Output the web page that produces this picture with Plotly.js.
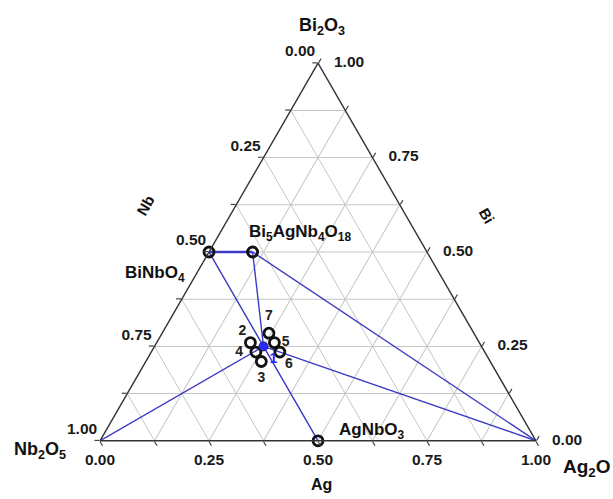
<!DOCTYPE html>
<html><head><meta charset="utf-8">
<script src="https://cdn.plot.ly/plotly-3.0.1.min.js"></script>
<style>html,body{margin:0;padding:0;background:#fff}</style>
</head><body><div id="chart" style="width:613px;height:499px"></div>
<script>
// ---- data (cation fractions: a = Bi, b = Nb, c = Ag) ----
const phaseNames = ["BiNbO4", "Bi5AgNb4O18", "AgNbO3", "Nb2O5", "Ag2O"];
const phaseBi = [0.50, 0.50, 0.00, 0.00, 0.00];
const phaseNb = [0.50, 0.40, 0.50, 1.00, 0.00];
const phaseAg = [0.00, 0.10, 0.50, 0.00, 1.00];
const phaseShown = [true, true, true, false, false];

const sampleLabels = ["1", "2", "3", "4", "5", "6", "7"];
const sampleBi = [0.250, 0.260, 0.210, 0.235, 0.260, 0.235, 0.285];
const sampleNb = [0.500, 0.525, 0.525, 0.525, 0.470, 0.470, 0.470];
const sampleAg = [0.250, 0.215, 0.265, 0.240, 0.270, 0.295, 0.245];
const samplePos = ["bottom right", "top left", "bottom center", "middle left", "middle right", "bottom right", "top center"];
const sampleLabelGap = [8, 5, 15, 19, 10, 6.5, 14];

const tieLines = [
  ["BiNbO4", "Bi5AgNb4O18"],
  ["BiNbO4", "1"],
  ["Bi5AgNb4O18", "1"],
  ["Bi5AgNb4O18", "Ag2O"],
  ["Nb2O5", "1"],
  ["1", "Ag2O"],
  ["1", "AgNbO3"]
];

const tickVals = [0, 0.25, 0.5, 0.75, 1];
const tickText = ["0.00", "0.25", "0.50", "0.75", "1.00"];
const gridVals = [0, 0.125, 0.25, 0.375, 0.5, 0.625, 0.75, 0.875, 1];

// ---- build ----
const FONT = "Liberation Sans, Arial, sans-serif";
const BLUE = "#3b3bc4";

function comp(name) {
  let i = phaseNames.indexOf(name);
  if (i >= 0) return [phaseBi[i], phaseNb[i], phaseAg[i]];
  i = sampleLabels.indexOf(name);
  return [sampleBi[i], sampleNb[i], sampleAg[i]];
}

const traces = [];
tieLines.forEach(function (pair, k) {
  const p = comp(pair[0]), q = comp(pair[1]);
  traces.push({
    type: "scatterternary", mode: "lines",
    a: [p[0], q[0]], b: [p[1], q[1]], c: [p[2], q[2]],
    line: {color: BLUE, width: k === 0 ? 2.6 : 1.4},
    cliponaxis: false, hoverinfo: "skip", showlegend: false
  });
});

// phase markers
const shownIdx = phaseNames.map((n, i) => i).filter(i => phaseShown[i]);
traces.push({
  type: "scatterternary", mode: "markers",
  a: shownIdx.map(i => phaseBi[i]), b: shownIdx.map(i => phaseNb[i]), c: shownIdx.map(i => phaseAg[i]),
  marker: {symbol: "circle-open", size: 10, color: "#111", line: {width: 2.8, color: "#111"}},
  cliponaxis: false, hoverinfo: "skip", showlegend: false
});
// sample markers 2..7 (open)
traces.push({
  type: "scatterternary", mode: "markers",
  a: sampleBi.slice(1), b: sampleNb.slice(1), c: sampleAg.slice(1),
  marker: {symbol: "circle-open", size: 10, color: "#111", line: {width: 2.8, color: "#111"}},
  cliponaxis: false, hoverinfo: "skip", showlegend: false
});
// sample 1 (filled blue)
traces.push({
  type: "scatterternary", mode: "markers",
  a: [sampleBi[0]], b: [sampleNb[0]], c: [sampleAg[0]],
  marker: {symbol: "circle", size: 9, color: "#2a2aff", line: {width: 1, color: "#1a1a80"}},
  cliponaxis: false, hoverinfo: "skip", showlegend: false
});
// sample labels
traces.push({
  type: "scatterternary", mode: "markers+text",
  a: sampleBi, b: sampleNb, c: sampleAg,
  text: sampleLabels, textposition: samplePos,
  marker: {size: sampleLabelGap, opacity: 0},
  textfont: {family: FONT, size: 14, weight: "bold",
             color: sampleLabels.map((s, i) => i === 0 ? "#2a2aff" : "#222")},
  cliponaxis: false, hoverinfo: "skip", showlegend: false
});

// tick labels along the three edges
const tf = {family: FONT, size: 15.5, weight: "bold", color: "#1a1a1a"};
// left edge: Nb values
traces.push({
  type: "scatterternary", mode: "markers+text",
  a: tickVals.map(v => 1 - v), b: tickVals, c: tickVals.map(v => 0),
  text: tickText, textposition: "top left",
  marker: {size: 3, opacity: 0}, textfont: tf,
  cliponaxis: false, hoverinfo: "skip", showlegend: false
});
// bottom edge: Ag values
traces.push({
  type: "scatterternary", mode: "markers+text",
  a: tickVals.map(v => 0), b: tickVals.map(v => 1 - v), c: tickVals,
  text: tickText, textposition: "bottom center",
  marker: {size: 18, opacity: 0}, textfont: tf,
  cliponaxis: false, hoverinfo: "skip", showlegend: false
});
// right edge: Bi values
traces.push({
  type: "scatterternary", mode: "markers+text",
  a: tickVals, b: tickVals.map(v => 0), c: tickVals.map(v => 1 - v),
  text: tickText, textposition: "middle right",
  marker: {size: 24, opacity: 0}, textfont: tf,
  cliponaxis: false, hoverinfo: "skip", showlegend: false
});

function axis() {
  return {
    title: {text: ""},
    tickmode: "array", tickvals: gridVals,
    showticklabels: false, ticks: "outside", ticklen: 5, tickwidth: 1.2, tickcolor: "#444",
    showline: true, linecolor: "#333", linewidth: 1.4,
    showgrid: true, gridcolor: "#c6c6c6", gridwidth: 1, min: 0
  };
}

const W = 613, H = 499;
function px(x) { return x / W; }
function py(y) { return 1 - y / H; }
const af = {family: FONT, size: 18, color: "#111"};
const annotations = [
  {text: "<b>Bi<sub>2</sub>O<sub>3</sub></b>", x: px(322), y: py(27), xanchor: "center", yanchor: "middle", font: af},
  {text: "<b>Nb<sub>2</sub>O<sub>5</sub></b>", x: px(68), y: py(450), xanchor: "right", yanchor: "middle", font: af},
  {text: "<b>Ag<sub>2</sub>O</b>", x: px(561), y: py(468), xanchor: "left", yanchor: "middle", font: {family: FONT, size: 19, color: "#111"}},
  {text: "<b>Nb</b>", x: px(145), y: py(205), textangle: -60, xanchor: "center", yanchor: "middle", font: {family: FONT, size: 15, color: "#111"}},
  {text: "<b>Bi</b>", x: px(487), y: py(215), textangle: 60, xanchor: "center", yanchor: "middle", font: {family: FONT, size: 15, color: "#111"}},
  {text: "<b>Ag</b>", x: px(321), y: py(484), xanchor: "center", yanchor: "middle", font: {family: FONT, size: 16, color: "#111"}},
  {text: "<b>BiNbO<sub>4</sub></b>", x: px(123), y: py(274), xanchor: "left", yanchor: "middle", font: {family: FONT, size: 17, color: "#111"}},
  {text: "<b>Bi<sub>5</sub>AgNb<sub>4</sub>O<sub>18</sub></b>", x: px(247), y: py(233), xanchor: "left", yanchor: "middle", font: {family: FONT, size: 17, color: "#111"}},
  {text: "<b>AgNbO<sub>3</sub></b>", x: px(337), y: py(431), xanchor: "left", yanchor: "middle", font: {family: FONT, size: 17, color: "#111"}}
].map(a => Object.assign({xref: "paper", yref: "paper", showarrow: false}, a));

const layout = {
  width: W, height: H,
  margin: {l: 0, r: 0, t: 0, b: 0},
  paper_bgcolor: "#fff",
  showlegend: false,
  hovermode: false,
  font: {family: FONT, color: "#111"},
  ternary: {
    sum: 1,
    domain: {x: [100 / W, 536 / W], y: [58 / H, 436 / H]},
    bgcolor: "rgba(0,0,0,0)",
    aaxis: axis(), baxis: axis(), caxis: axis()
  },
  annotations: annotations
};

Plotly.newPlot("chart", traces, layout, {displayModeBar: false, staticPlot: true});
</script></body></html>
